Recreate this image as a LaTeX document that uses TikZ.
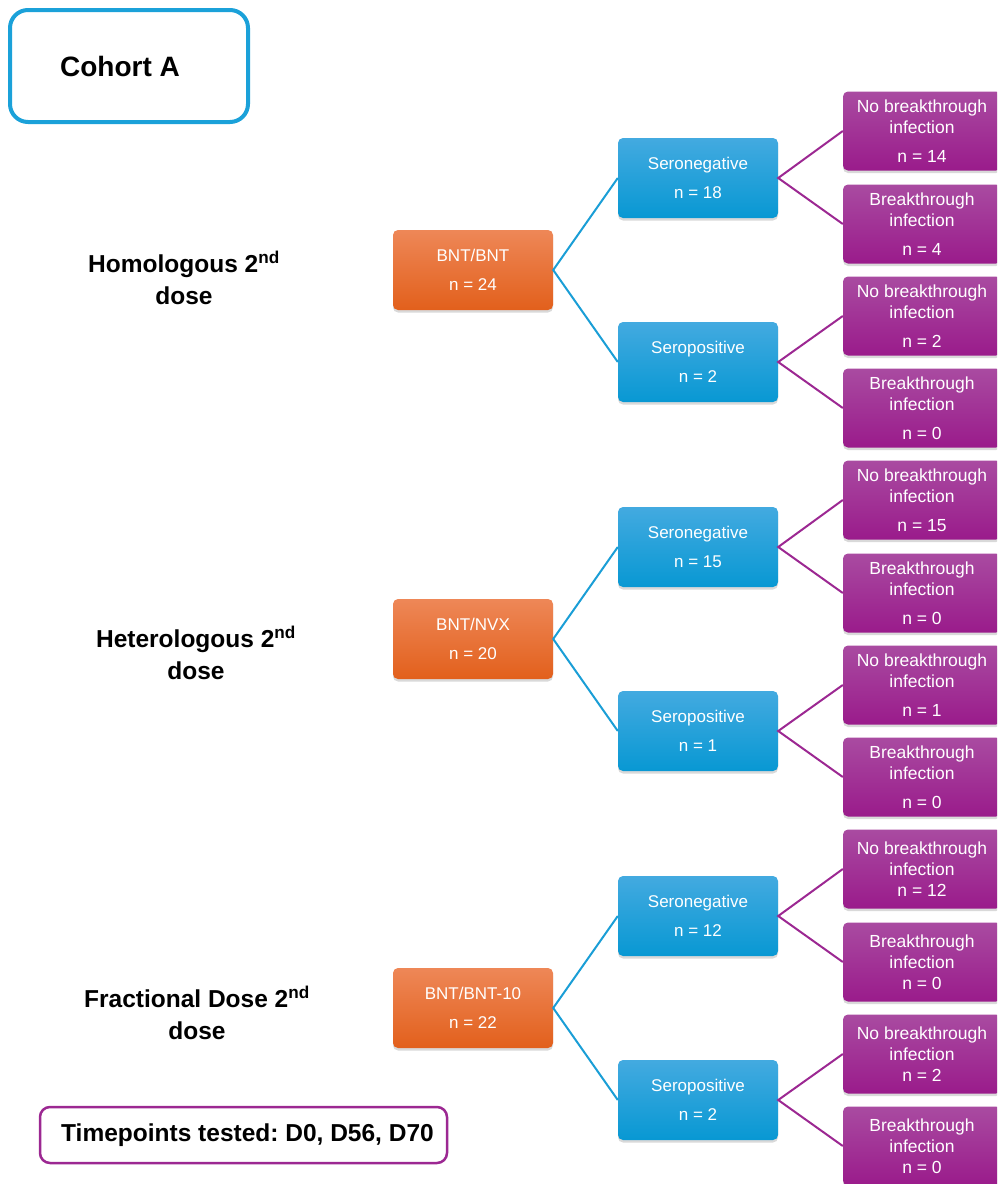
\documentclass[tikz,border=0pt]{standalone}
\usepackage{fontspec}
\setmainfont{Liberation Sans}
\usetikzlibrary{shadows}

\definecolor{cohortblue}{HTML}{1BA1D9}
\definecolor{orangetop}{HTML}{EE8757}
\definecolor{orangebot}{HTML}{E2601C}
\definecolor{bluetop}{HTML}{43AAE0}
\definecolor{bluebot}{HTML}{0898D3}
\definecolor{purpletop}{HTML}{A94BA1}
\definecolor{purplebot}{HTML}{9A1B8B}
\definecolor{linkblue}{HTML}{1A9ED6}
\definecolor{linkpurple}{HTML}{9C2892}

\frenchspacing

\begin{document}
\begin{tikzpicture}[
  x=1pt, y=-1pt,
  box/.style={
    rounded corners=5pt,
    align=center,
    text=white,
    inner sep=0pt,
    drop shadow={opacity=.3, shadow xshift=0pt, shadow yshift=-2.5pt}
  },
  vaccine/.style={box, minimum width=160pt, minimum height=80pt,
    top color=orangetop, bottom color=orangebot, font=\fontsize{17}{29}\selectfont},
  serostatus/.style={box, minimum width=160pt, minimum height=80pt,
    top color=bluetop, bottom color=bluebot, font=\fontsize{17}{29}\selectfont},
  outcome/.style={box, minimum width=158pt, minimum height=79pt,
    top color=purpletop, bottom color=purplebot, font=\fontsize{17.5}{21}\selectfont},
  grouplabel/.style={align=center, font=\bfseries\fontsize{24.5}{32}\selectfont},
  framebox/.style={rounded corners, fill=white, inner sep=0pt},
  bluelink/.style={draw=linkblue, line width=2pt},
  purplelink/.style={draw=linkpurple, line width=2pt}
]
\useasboundingbox (0,0) rectangle (997,1184);
\clip (0,0) rectangle (997,1184);

% header and footer
\node[framebox, draw=cohortblue, line width=4pt, rounded corners=18pt,
  minimum width=238pt, minimum height=112pt, font=\bfseries\fontsize{28}{32}\selectfont]
  (cohort) at (129,66) {Cohort A\hspace*{18pt}};
\node[framebox, draw=linkpurple, line width=2.5pt, rounded corners=10pt,
  minimum width=407pt, minimum height=56pt, font=\bfseries\fontsize{24.5}{28}\selectfont]
  (timepoints) at (243.5,1135) {\hspace*{8pt}Timepoints tested: D0, D56, D70};

% homologous
\node[grouplabel] (homlabel) at (184,278) {Homologous 2\textsuperscript{nd}\\dose};
\node[vaccine] (bntbnt) at (473,270) {BNT/BNT\\n = 24};
\node[serostatus] (homneg) at (698,178) {Seronegative\\n = 18};
\node[serostatus] (hompos) at (698,362) {Seropositive\\n = 2};
\node[outcome] (homnegno) at (922,131) {No breakthrough\\infection\\[8pt]n = 14};
\node[outcome] (homnegbt) at (922,224) {Breakthrough\\infection\\[8pt]n = 4};
\node[outcome] (homposno) at (922,316) {No breakthrough\\infection\\[8pt]n = 2};
\node[outcome] (homposbt) at (922,408) {Breakthrough\\infection\\[8pt]n = 0};

% heterologous
\node[grouplabel] (hetlabel) at (196,653) {Heterologous 2\textsuperscript{nd}\\dose};
\node[vaccine] (bntnvx) at (473,639) {BNT/NVX\\n = 20};
\node[serostatus] (hetneg) at (698,547) {Seronegative\\n = 15};
\node[serostatus] (hetpos) at (698,731) {Seropositive\\n = 1};
\node[outcome] (hetnegno) at (922,500) {No breakthrough\\infection\\[8pt]n = 15};
\node[outcome] (hetnegbt) at (922,593) {Breakthrough\\infection\\[8pt]n = 0};
\node[outcome] (hetposno) at (922,685) {No breakthrough\\infection\\[8pt]n = 1};
\node[outcome] (hetposbt) at (922,777) {Breakthrough\\infection\\[8pt]n = 0};

% fractional
\node[grouplabel] (fraclabel) at (197,1013) {Fractional Dose 2\textsuperscript{nd}\\dose};
\node[vaccine] (bntfrac) at (473,1008) {BNT/BNT-10\\n = 22};
\node[serostatus] (fracneg) at (698,916) {Seronegative\\n = 12};
\node[serostatus] (fracpos) at (698,1100) {Seropositive\\n = 2};
\node[outcome] (fracnegno) at (922,869) {No breakthrough\\infection\\n = 12};
\node[outcome] (fracnegbt) at (922,962) {Breakthrough\\infection\\n = 0};
\node[outcome] (fracposno) at (922,1054) {No breakthrough\\infection\\n = 2};
\node[outcome] (fracposbt) at (922,1146) {Breakthrough\\infection\\n = 0};

\draw[bluelink] (homneg.west) -- (bntbnt.east) -- (hompos.west);
\draw[bluelink] (hetneg.west) -- (bntnvx.east) -- (hetpos.west);
\draw[bluelink] (fracneg.west) -- (bntfrac.east) -- (fracpos.west);

\draw[purplelink] (homnegno.west) -- (homneg.east) -- (homnegbt.west);
\draw[purplelink] (homposno.west) -- (hompos.east) -- (homposbt.west);
\draw[purplelink] (hetnegno.west) -- (hetneg.east) -- (hetnegbt.west);
\draw[purplelink] (hetposno.west) -- (hetpos.east) -- (hetposbt.west);
\draw[purplelink] (fracnegno.west) -- (fracneg.east) -- (fracnegbt.west);
\draw[purplelink] (fracposno.west) -- (fracpos.east) -- (fracposbt.west);
\end{tikzpicture}
\end{document}
